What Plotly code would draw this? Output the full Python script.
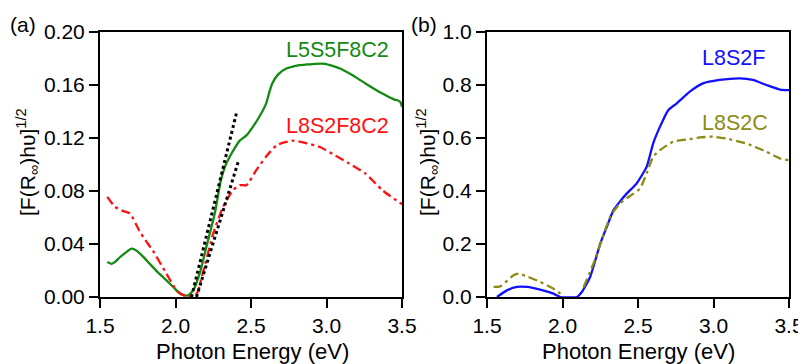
import plotly.graph_objects as go

# Panel (a)
green_x = [1.548, 1.577, 1.60, 1.632, 1.67, 1.709, 1.742, 1.78, 1.83, 1.88, 1.94, 1.99, 2.03, 2.08, 2.117, 2.16,
           2.205, 2.26, 2.30, 2.33, 2.36, 2.39, 2.425, 2.47, 2.51, 2.56, 2.60, 2.62, 2.64, 2.68, 2.733, 2.78, 2.82,
           2.87, 2.93, 2.99, 3.04, 3.09, 3.17, 3.26, 3.37, 3.45, 3.47, 3.49, 3.5]
green_y = [0.0264, 0.025, 0.0265, 0.030, 0.0335, 0.0365, 0.035, 0.031, 0.025, 0.019, 0.0126, 0.007, 0.0025, 0.001,
           0.005, 0.0176, 0.038, 0.063, 0.088, 0.099, 0.106, 0.112, 0.118, 0.122, 0.128, 0.137, 0.146, 0.154, 0.161,
           0.168, 0.1725, 0.174, 0.175, 0.1755, 0.176, 0.176, 0.1745, 0.1725, 0.1675, 0.161, 0.1535, 0.149, 0.1485,
           0.147, 0.1435]

red_x = [1.548, 1.60, 1.65, 1.70, 1.76, 1.80, 1.85, 1.94, 2.007, 2.07, 2.14, 2.18, 2.25, 2.315, 2.38, 2.425, 2.47,
         2.535, 2.60, 2.67, 2.733, 2.78, 2.87, 2.96, 3.04, 3.15, 3.26, 3.37, 3.5]
red_y = [0.0756, 0.068, 0.065, 0.063, 0.050, 0.043, 0.035, 0.0176, 0.005, 0.0005, 0.0025, 0.0176, 0.048, 0.068,
         0.0806, 0.0844, 0.0844, 0.0957, 0.106, 0.1146, 0.117, 0.118, 0.116, 0.113, 0.108, 0.1008, 0.093, 0.0806,
         0.070]

fit1_x = [2.106, 2.403]
fit1_y = [0.0, 0.1385]
fit2_x = [2.139, 2.42]
fit2_y = [0.0, 0.1038]

# Panel (b)
blue_x = [1.566, 1.632, 1.698, 1.764, 1.852, 1.94, 1.985, 2.095, 2.128, 2.183, 2.25, 2.293, 2.337, 2.38, 2.425,
          2.49, 2.557, 2.60, 2.645, 2.70, 2.755, 2.843, 2.93, 3.04, 3.174, 3.26, 3.35, 3.44, 3.5]
blue_y = [0.0, 0.025, 0.038, 0.038, 0.028, 0.0126, 0.0, 0.0, 0.019, 0.0756, 0.2015, 0.264, 0.327, 0.36, 0.39,
          0.428, 0.491, 0.579, 0.642, 0.705, 0.730, 0.775, 0.806, 0.819, 0.825, 0.819, 0.80, 0.783, 0.781]

olive_x = [1.544, 1.588, 1.676, 1.709, 1.764, 1.852, 1.94, 1.985, 2.0, None, 2.14, 2.205, 2.26, 2.315, 2.38, 2.47,
           2.513, 2.557, 2.60, 2.645, 2.733, 2.82, 2.91, 2.997, 3.085, 3.22, 3.35, 3.44, 3.5]
olive_y = [0.038, 0.040, 0.082, 0.088, 0.078, 0.057, 0.0315, 0.0126, 0.004, None, 0.038, 0.126, 0.214, 0.302,
           0.353, 0.39, 0.409, 0.466, 0.529, 0.554, 0.586, 0.594, 0.602, 0.605, 0.598, 0.579, 0.548, 0.523, 0.516]

x_ticks = [1.5, 2.0, 2.5, 3.0, 3.5]
ya_ticks = [0.00, 0.04, 0.08, 0.12, 0.16, 0.20]
yb_ticks = [0.0, 0.2, 0.4, 0.6, 0.8, 1.0]

GREEN = "#138a13"
RED = "#ff1010"
BLUE = "#1010ff"
OLIVE = "#8c8c14"
FONT = "Liberation Sans, Arial, sans-serif"

# page body has an 8px margin: figure occupies (8..806, 8..364) of the window
OFF = 8
W, H = 806 - OFF, 364 - OFF

def fx(p):
    return (p - OFF) / W

def fy(p):
    return 1 - (p - OFF) / H

fig = go.Figure()
LW = 2.3
fig.add_trace(go.Scatter(x=green_x, y=green_y, mode="lines",
                         line=dict(color=GREEN, width=LW, shape="spline", smoothing=0.5),
                         xaxis="x", yaxis="y", showlegend=False))
fig.add_trace(go.Scatter(x=red_x, y=red_y, mode="lines",
                         line=dict(color=RED, width=LW, dash="9px,4px,3px,4px", shape="spline", smoothing=0.5),
                         xaxis="x", yaxis="y", showlegend=False))
fig.add_trace(go.Scatter(x=fit1_x, y=fit1_y, mode="lines", line=dict(color="black", width=3, dash="dot"),
                         xaxis="x", yaxis="y", showlegend=False))
fig.add_trace(go.Scatter(x=fit2_x, y=fit2_y, mode="lines", line=dict(color="black", width=3, dash="dot"),
                         xaxis="x", yaxis="y", showlegend=False))

fig.add_trace(go.Scatter(x=blue_x, y=blue_y, mode="lines",
                         line=dict(color=BLUE, width=LW, shape="spline", smoothing=0.5),
                         xaxis="x2", yaxis="y2", showlegend=False))
fig.add_trace(go.Scatter(x=olive_x, y=olive_y, mode="lines", connectgaps=False,
                         line=dict(color=OLIVE, width=LW, dash="9px,4px,3px,4px", shape="spline", smoothing=0.5),
                         xaxis="x2", yaxis="y2", showlegend=False))

ax_common = dict(showline=True, linecolor="black", linewidth=2, mirror=True, ticks="outside",
                 ticklen=9, tickwidth=2, tickcolor="black", showgrid=False, zeroline=False,
                 automargin=False,
                 tickfont=dict(family=FONT, size=21, color="black"))

ydom = [fy(297), fy(32)]
fig.update_layout(
    width=W, height=H, margin=dict(l=0, r=0, t=0, b=0, pad=0, autoexpand=False),
    paper_bgcolor="white", plot_bgcolor="white",
    font=dict(family=FONT, color="black"),
    xaxis=dict(domain=[fx(100), fx(402)], range=[1.5, 3.5], tickvals=x_ticks,
               ticktext=[f"{v:.1f}" for v in x_ticks], anchor="y", **ax_common),
    yaxis=dict(domain=ydom, range=[0, 0.20], tickvals=ya_ticks,
               ticktext=[f"{v:.2f}" for v in ya_ticks], anchor="x", **ax_common),
    xaxis2=dict(domain=[fx(487), fx(789)], range=[1.5, 3.5], tickvals=x_ticks,
                ticktext=[f"{v:.1f}" for v in x_ticks], anchor="y2", **ax_common),
    yaxis2=dict(domain=ydom, range=[0, 1.0], tickvals=yb_ticks,
                ticktext=[f"{v:.1f}" for v in yb_ticks], anchor="x2", **ax_common),
)

ytitle = "[F(R<sub>∞</sub>)hυ]<sup>1/2</sup>"
annots = [
    dict(x=252, y=351, text="Photon Energy (eV)", size=22),
    dict(x=638, y=351, text="Photon Energy (eV)", size=22),
    dict(x=27, y=162, text=ytitle, angle=-90, size=21),
    dict(x=427, y=162, text=ytitle, angle=-90, size=21),
    dict(x=23, y=24, text="(a)", size=21),
    dict(x=424, y=24, text="(b)", size=21),
    dict(x=337, y=50, text="L5S5F8C2", size=21.5, color=GREEN),
    dict(x=337, y=126, text="L8S2F8C2", size=21.5, color=RED),
    dict(x=733, y=58, text="L8S2F", size=21.5, color=BLUE),
    dict(x=735, y=123, text="L8S2C", size=21.5, color=OLIVE),
]
for a in annots:
    fig.add_annotation(xref="paper", yref="paper", showarrow=False, xanchor="center", yanchor="middle",
                       font=dict(family=FONT, size=a["size"], color=a.get("color", "black")),
                       x=fx(a["x"]), y=fy(a["y"]), text=a["text"], textangle=a.get("angle", 0))

fig.write_html("out.html")
